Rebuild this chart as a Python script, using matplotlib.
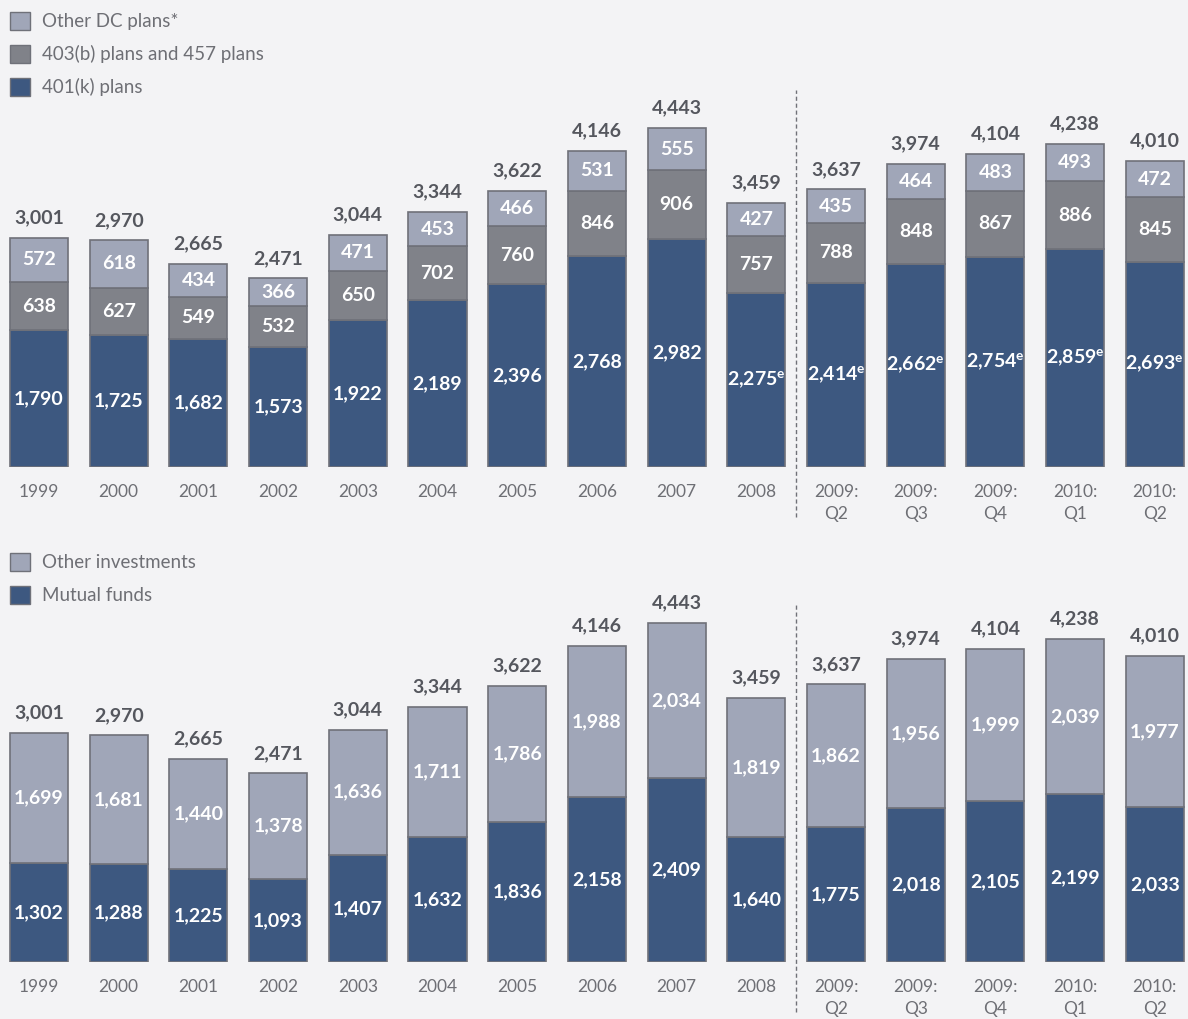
import matplotlib.pyplot as plt
from matplotlib.patches import Patch

plt.rcParams['font.family'] = ['Lato', 'DejaVu Sans']

# data
periods = ['1999', '2000', '2001', '2002', '2003', '2004', '2005', '2006', '2007', '2008',
           '2009:\nQ2', '2009:\nQ3', '2009:\nQ4', '2010:\nQ1', '2010:\nQ2']
plans_401k = [1790, 1725, 1682, 1573, 1922, 2189, 2396, 2768, 2982, 2275,
              2414, 2662, 2754, 2859, 2693]
plans_403b = [638, 627, 549, 532, 650, 702, 760, 846, 906, 757,
              788, 848, 867, 886, 845]
other_dc = [572, 618, 434, 366, 471, 453, 466, 531, 555, 427,
            435, 464, 483, 493, 472]
totals = [3001, 2970, 2665, 2471, 3044, 3344, 3622, 4146, 4443, 3459,
          3637, 3974, 4104, 4238, 4010]
estimated = [False] * 9 + [True] * 6
mutual_funds = [1302, 1288, 1225, 1093, 1407, 1632, 1836, 2158, 2409, 1640,
                1775, 2018, 2105, 2199, 2033]
other_inv = [1699, 1681, 1440, 1378, 1636, 1711, 1786, 1988, 2034, 1819,
             1862, 1956, 1999, 2039, 1977]

BG = '#f3f3f5'
BLUE = '#3d5880'
MID = '#808289'
LIGHT = '#a0a6b8'
EDGE = '#6f7179'
TXT = '#55575e'
TICK = '#6e6f75'

W, H = 1188, 1019
fig = plt.figure(figsize=(W / 100, H / 100), dpi=100, facecolor=BG)

step = 79.7
x0 = 39
xlim = (-x0 / step, (W - x0) / step)
scale = 0.0763  # px per unit


def make_ax(base_px, top_px):
    ax = fig.add_axes([0, (H - base_px) / H, 1, (base_px - top_px) / H])
    ax.set_facecolor(BG)
    ax.set_xlim(*xlim)
    ax.set_ylim(0, (base_px - top_px) / scale)
    for s in ax.spines.values():
        s.set_visible(False)
    ax.set_yticks([])
    ax.set_xticks(range(len(periods)))
    ax.set_xticklabels(periods, fontsize=12.5, color=TICK, linespacing=1.45)
    ax.tick_params(axis='x', length=0, pad=12)
    return ax


def seg_labels(ax, bottoms, vals, est=None):
    for i, (b, v) in enumerate(zip(bottoms, vals)):
        s = f'{v:,}'
        if est is not None and est[i]:
            s = s + r'$^{\mathregular{e}}$'
        ax.text(i, b + v / 2, s, ha='center', va='center', color='white',
                fontsize=14, fontweight='bold')


def legend(ax, items, top_px):
    lg = ax.legend(handles=[Patch(facecolor=c, edgecolor=EDGE, label=l) for l, c in items],
                   loc='upper left', bbox_to_anchor=(2 / W, 1 - top_px / H),
                   bbox_transform=fig.transFigure, frameon=False, fontsize=13.5,
                   handlelength=1.1, handleheight=1.1, handletextpad=0.65,
                   labelspacing=0.78, borderaxespad=0)
    for t in lg.get_texts():
        t.set_color(TICK)


x = list(range(len(periods)))
bw = 0.73

# top panel
ax1 = make_ax(467, 0)
b2 = plans_401k
b3 = [a + b for a, b in zip(plans_401k, plans_403b)]
ax1.bar(x, plans_401k, bw, color=BLUE, edgecolor=EDGE, linewidth=1.2)
ax1.bar(x, plans_403b, bw, bottom=b2, color=MID, edgecolor=EDGE, linewidth=1.2)
ax1.bar(x, other_dc, bw, bottom=b3, color=LIGHT, edgecolor=EDGE, linewidth=1.2)
seg_labels(ax1, [0] * len(x), plans_401k, estimated)
seg_labels(ax1, b2, plans_403b)
seg_labels(ax1, b3, other_dc)
tops = [a + b for a, b in zip(b3, other_dc)]
for i, t in enumerate(tops):
    ax1.text(i, t + 150, f'{totals[i]:,}', ha='center', va='bottom',
             fontsize=14, fontweight='bold', color=TXT)
ax1.axvline(9.5, ymin=-50 / 467, ymax=(467 - 90) / 467, color='#707178',
            linestyle=(0, (3, 2)), linewidth=1, clip_on=False)
legend(ax1, [('Other DC plans*', LIGHT), ('403(b) plans and 457 plans', MID),
             ('401(k) plans', BLUE)], 4)

# bottom panel
ax2 = make_ax(962, 540)
ax2.bar(x, mutual_funds, bw, color=BLUE, edgecolor=EDGE, linewidth=1.2)
ax2.bar(x, other_inv, bw, bottom=mutual_funds, color=LIGHT, edgecolor=EDGE, linewidth=1.2)
seg_labels(ax2, [0] * len(x), mutual_funds)
seg_labels(ax2, mutual_funds, other_inv)
tops2 = [a + b for a, b in zip(mutual_funds, other_inv)]
for i, t in enumerate(tops2):
    ax2.text(i, t + 150, f'{totals[i]:,}', ha='center', va='bottom',
             fontsize=14, fontweight='bold', color=TXT)
ax2.axvline(9.5, ymin=-50 / 422, ymax=(962 - 603) / 422, color='#707178',
            linestyle=(0, (3, 2)), linewidth=1, clip_on=False)
legend(ax2, [('Other investments', LIGHT), ('Mutual funds', BLUE)], 545)

fig.savefig('out.png', dpi=100, facecolor=BG)
